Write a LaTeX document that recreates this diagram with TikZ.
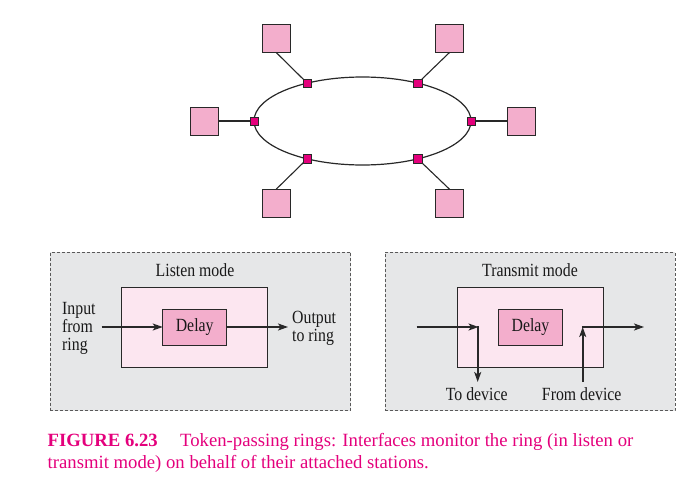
\documentclass[tikz,border=0pt]{standalone}
\usepackage{fontspec}
\usepackage{graphicx}
\setmainfont{Liberation Serif}
\usetikzlibrary{arrows.meta}
\definecolor{magentaC}{RGB}{228,0,124}
\definecolor{stationC}{RGB}{243,174,204}
\definecolor{innerC}{RGB}{252,230,240}
\definecolor{panelC}{RGB}{230,231,232}
\definecolor{edgeC}{RGB}{40,40,40}
\newcommand{\cndtext}[1]{\scalebox{0.85}[1]{#1}}
\newcommand{\cndlines}[1]{\scalebox{0.85}[1]{\begin{tabular}{@{}l@{}}#1\end{tabular}}}
\tikzset{
  stationbox/.style={draw=edgeC, line width=0.8pt, fill=stationC, minimum size=28pt, inner sep=0pt, outer sep=0pt},
  tapbox/.style={draw=edgeC, line width=0.5pt, fill=magentaC, minimum size=8.3pt, inner sep=0pt, outer sep=0pt},
  linkline/.style={draw=edgeC, line width=1.1pt},
  panelbox/.style={draw=black!65, dash pattern=on 3pt off 2pt, line width=0.9pt, fill=panelC, inner sep=0pt, outer sep=0pt},
  innerbox/.style={draw=edgeC, line width=0.8pt, fill=innerC, minimum width=146pt, minimum height=80pt, inner sep=0pt, outer sep=0pt},
  delaybox/.style={draw=edgeC, line width=0.8pt, fill=stationC, minimum width=64pt, minimum height=36pt, inner sep=0pt, outer sep=0pt, font=\fontsize{18.6}{18}\selectfont, text=black!90},
  lbltext/.style={font=\fontsize{18.6}{18}\selectfont, text=black!90, inner sep=0pt},
  arrline/.style={draw=edgeC, line width=1.6pt, -{Stealth[length=10pt,width=7pt,inset=2.5pt]}},
  captext/.style={font=\fontsize{18.7}{19}\selectfont, text=magentaC, inner sep=0pt, anchor=base west}
}
\begin{document}
\begin{tikzpicture}[x=1pt,y=-1pt]
\useasboundingbox (0,0) rectangle (697,479);
% ring
\draw[edgeC, line width=1.2pt] (362.5,121) ellipse [x radius=108.5pt, y radius=44pt];
\node[stationbox] (s1) at (276.2,38.5) {};
\node[stationbox] (s2) at (449.5,38.5) {};
\node[stationbox] (s3) at (204.2,121) {};
\node[stationbox] (s4) at (521,121) {};
\node[stationbox] (s5) at (276.2,203.2) {};
\node[stationbox] (s6) at (449.5,203.2) {};
\coordinate (c1) at (307.3,83.2);
\coordinate (c2) at (417.7,83.2);
\coordinate (c3) at (254,121);
\coordinate (c4) at (471,121);
\coordinate (c5) at (307.3,158.8);
\coordinate (c6) at (417.7,158.8);
\draw[linkline] (s1.south) -- (c1);
\draw[linkline] (s2.south) -- (c2);
\draw[linkline] (s3.east) -- (c3);
\draw[linkline] (s4.west) -- (c4);
\draw[linkline] (s5.north) -- (c5);
\draw[linkline] (s6.north) -- (c6);
\node[tapbox] (t1) at (c1) {};
\node[tapbox] (t2) at (c2) {};
\node[tapbox] (t3) at (c3) {};
\node[tapbox] (t4) at (c4) {};
\node[tapbox] (t5) at (c5) {};
\node[tapbox] (t6) at (c6) {};
% listen panel
\node[panelbox, minimum width=300.7pt, minimum height=158.4pt] (lp) at (200.35,331.5) {};
\node[lbltext] (lt) at (195,270) {\cndtext{Listen mode}};
\node[innerbox] (li) at (194.7,327.3) {};
\node[delaybox] (ld) at (194.7,327) {\raisebox{-1.5pt}{\cndtext{Delay}}};
\node[lbltext, anchor=west] (lin) at (62,329) {\cndlines{Input\\from\\ring}};
\node[lbltext, anchor=west] (lout) at (292,329) {\cndlines{Output\\to ring}};
\coordinate (lstart) at (101.7,327);
\coordinate (lend) at (288,327);
\draw[arrline] (lstart) -- (ld.west);
\draw[arrline] (ld.east) -- (lend);
% transmit panel
\node[panelbox, minimum width=290pt, minimum height=158.4pt] (tp) at (530,331.5) {};
\node[lbltext] (tt) at (530,270) {\cndtext{Transmit mode}};
\node[innerbox, minimum width=145.6pt] (ti) at (530.5,327) {};
\node[delaybox] (td) at (530.5,327) {\raisebox{-1.5pt}{\cndtext{Delay}}};
\coordinate (tin) at (416.7,327);
\coordinate (tcorner) at (477.7,327);
\coordinate (tdev) at (477.7,382);
\coordinate (fdev) at (582.7,382);
\coordinate (fcorner) at (582.7,327);
\coordinate (tout) at (644,327);
\draw[arrline] (tin) -- ([xshift=0.8pt]tcorner);
\draw[arrline] ([yshift=0.8pt]tcorner) -- (tdev);
\draw[arrline] (fdev) -- (fcorner);
\draw[arrline] ([xshift=-0.8pt]fcorner) -- (tout);
\node[lbltext] (tdl) at (476.7,394) {\cndtext{To device}};
\node[lbltext] (fdl) at (581.7,394) {\cndtext{From device}};
% caption
\node[captext] (cf) at (47.5,446.2) {\bfseries FIGURE 6.23};
\node[captext] (c1t) at (180,446.2) {Token-passing rings: Interfaces monitor the ring (in listen or};
\node[captext] (c2t) at (47.5,468.5) {transmit mode) on behalf of their attached stations.};
\end{tikzpicture}
\end{document}
